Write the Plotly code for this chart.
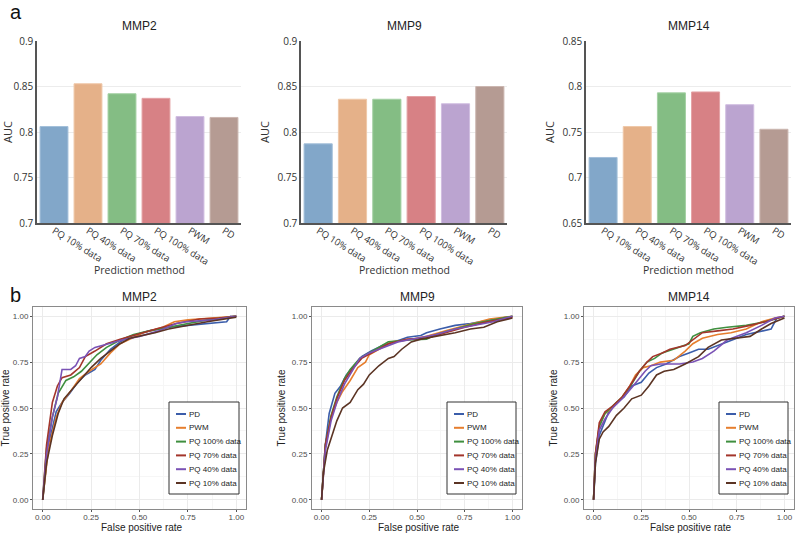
import plotly.graph_objects as go

# ---------------- data ----------------
methods = ["PQ 10% data", "PQ 40% data", "PQ 70% data", "PQ 100% data", "PWM", "PD"]
bar_colors = ["#82a7c9", "#e5b189", "#84bd84", "#d78185", "#bba4d0", "#b59b93"]
bar_edges = ["#a3bfd9", "#efc8a9", "#a3d0a3", "#e4a2a5", "#d0bde0", "#cbb6b0"]

auc_mmp2 = [0.806, 0.853, 0.842, 0.837, 0.817, 0.816]
auc_mmp9 = [0.787, 0.836, 0.836, 0.839, 0.831, 0.850]
auc_mmp14 = [0.722, 0.756, 0.793, 0.794, 0.780, 0.753]

roc_names = ["PD", "PWM", "PQ 100% data", "PQ 70% data", "PQ 40% data", "PQ 10% data"]
roc_colors = ["#3b5daa", "#e67e2e", "#3f8f3f", "#a3352b", "#7a52b5", "#5b3424"]

# MMP2 ROC curves (fpr, tpr)
mmp2_pd_x = [0, 0.03, 0.07, 0.10, 0.14, 0.18, 0.22, 0.27, 0.30, 0.35, 0.40, 0.45, 0.55, 0.65, 0.75, 0.85, 0.95, 0.97, 1.0]
mmp2_pd_y = [0, 0.30, 0.48, 0.53, 0.58, 0.64, 0.68, 0.71, 0.76, 0.82, 0.86, 0.89, 0.92, 0.94, 0.95, 0.96, 0.97, 1.0, 1.0]
mmp2_pwm_x = [0, 0.03, 0.07, 0.10, 0.15, 0.19, 0.24, 0.30, 0.35, 0.40, 0.46, 0.52, 0.62, 0.68, 0.75, 0.90, 1.0]
mmp2_pwm_y = [0, 0.28, 0.45, 0.53, 0.60, 0.66, 0.70, 0.74, 0.80, 0.85, 0.88, 0.91, 0.94, 0.97, 0.98, 0.99, 1.0]
mmp2_pq100_x = [0, 0.02, 0.05, 0.08, 0.12, 0.16, 0.20, 0.25, 0.28, 0.33, 0.40, 0.47, 0.55, 0.65, 0.75, 0.85, 1.0]
mmp2_pq100_y = [0, 0.28, 0.45, 0.58, 0.65, 0.67, 0.70, 0.76, 0.79, 0.83, 0.87, 0.90, 0.92, 0.94, 0.96, 0.98, 1.0]
mmp2_pq70_x = [0, 0.02, 0.05, 0.076, 0.10, 0.145, 0.19, 0.22, 0.27, 0.33, 0.40, 0.48, 0.585, 0.69, 0.81, 0.91, 1.0]
mmp2_pq70_y = [0, 0.30, 0.53, 0.62, 0.665, 0.68, 0.72, 0.78, 0.81, 0.85, 0.875, 0.90, 0.93, 0.96, 0.985, 0.99, 1.0]
mmp2_pq40_x = [0, 0.02, 0.05, 0.076, 0.10, 0.145, 0.17, 0.19, 0.22, 0.24, 0.27, 0.34, 0.41, 0.50, 0.60, 0.69, 0.74, 0.88, 1.0]
mmp2_pq40_y = [0, 0.25, 0.45, 0.56, 0.71, 0.71, 0.73, 0.77, 0.78, 0.81, 0.83, 0.85, 0.87, 0.89, 0.92, 0.96, 0.97, 0.98, 1.0]
mmp2_pq10_x = [0, 0.02, 0.05, 0.08, 0.11, 0.15, 0.20, 0.25, 0.30, 0.35, 0.40, 0.45, 0.50, 0.58, 0.65, 0.75, 0.85, 1.0]
mmp2_pq10_y = [0, 0.20, 0.35, 0.47, 0.55, 0.60, 0.66, 0.72, 0.77, 0.81, 0.85, 0.88, 0.89, 0.91, 0.93, 0.95, 0.97, 0.995]

# MMP9 ROC curves
mmp9_pd_x = [0, 0.02, 0.04, 0.07, 0.10, 0.13, 0.17, 0.21, 0.26, 0.32, 0.38, 0.45, 0.52, 0.55, 0.62, 0.70, 0.78, 0.86, 0.93, 1.0]
mmp9_pd_y = [0, 0.30, 0.47, 0.58, 0.62, 0.68, 0.73, 0.78, 0.81, 0.84, 0.86, 0.885, 0.895, 0.91, 0.93, 0.95, 0.96, 0.975, 0.99, 1.0]
mmp9_pwm_x = [0, 0.02, 0.05, 0.08, 0.11, 0.15, 0.19, 0.23, 0.25, 0.30, 0.37, 0.45, 0.55, 0.65, 0.75, 0.88, 1.0]
mmp9_pwm_y = [0, 0.28, 0.45, 0.53, 0.59, 0.65, 0.72, 0.75, 0.79, 0.82, 0.86, 0.87, 0.89, 0.92, 0.95, 0.985, 1.0]
mmp9_pq100_x = [0, 0.02, 0.05, 0.08, 0.12, 0.15, 0.20, 0.27, 0.35, 0.45, 0.55, 0.60, 0.70, 0.80, 0.90, 1.0]
mmp9_pq100_y = [0, 0.30, 0.46, 0.56, 0.66, 0.71, 0.77, 0.81, 0.86, 0.87, 0.875, 0.90, 0.93, 0.96, 0.98, 1.0]
mmp9_pq70_x = [0, 0.02, 0.05, 0.08, 0.12, 0.16, 0.21, 0.28, 0.35, 0.45, 0.55, 0.65, 0.75, 0.85, 1.0]
mmp9_pq70_y = [0, 0.30, 0.45, 0.55, 0.65, 0.71, 0.77, 0.81, 0.85, 0.875, 0.88, 0.91, 0.94, 0.965, 0.995]
mmp9_pq40_x = [0, 0.02, 0.05, 0.08, 0.12, 0.16, 0.20, 0.25, 0.32, 0.40, 0.50, 0.60, 0.70, 0.80, 0.90, 1.0]
mmp9_pq40_y = [0, 0.27, 0.43, 0.53, 0.63, 0.70, 0.77, 0.80, 0.83, 0.86, 0.88, 0.90, 0.93, 0.95, 0.97, 1.0]
mmp9_pq10_x = [0, 0.01, 0.03, 0.06, 0.08, 0.11, 0.15, 0.19, 0.22, 0.25, 0.30, 0.35, 0.38, 0.42, 0.47, 0.52, 0.60, 0.70, 0.78, 0.85, 0.92, 1.0]
mmp9_pq10_y = [0, 0.15, 0.27, 0.37, 0.43, 0.50, 0.53, 0.60, 0.63, 0.68, 0.73, 0.77, 0.78, 0.82, 0.86, 0.875, 0.89, 0.91, 0.93, 0.94, 0.97, 0.99]

# MMP14 ROC curves
mmp14_pd_x = [0, 0.01, 0.03, 0.05, 0.08, 0.12, 0.16, 0.20, 0.25, 0.29, 0.33, 0.38, 0.45, 0.50, 0.55, 0.60, 0.67, 0.75, 0.80, 0.88, 0.93, 0.96, 1.0]
mmp14_pd_y = [0, 0.20, 0.35, 0.40, 0.48, 0.53, 0.56, 0.62, 0.64, 0.69, 0.72, 0.74, 0.78, 0.80, 0.82, 0.82, 0.85, 0.88, 0.90, 0.92, 0.93, 0.99, 1.0]
mmp14_pwm_x = [0, 0.01, 0.03, 0.06, 0.10, 0.15, 0.19, 0.22, 0.26, 0.30, 0.35, 0.42, 0.48, 0.52, 0.57, 0.65, 0.72, 0.80, 0.88, 0.95, 1.0]
mmp14_pwm_y = [0, 0.25, 0.40, 0.47, 0.50, 0.56, 0.62, 0.68, 0.72, 0.73, 0.75, 0.76, 0.81, 0.85, 0.88, 0.90, 0.91, 0.93, 0.97, 0.99, 1.0]
mmp14_pq100_x = [0, 0.01, 0.03, 0.06, 0.10, 0.15, 0.20, 0.24, 0.28, 0.32, 0.36, 0.45, 0.50, 0.52, 0.56, 0.63, 0.70, 0.80, 0.90, 1.0]
mmp14_pq100_y = [0, 0.25, 0.40, 0.47, 0.51, 0.56, 0.63, 0.70, 0.75, 0.77, 0.80, 0.83, 0.85, 0.89, 0.91, 0.93, 0.94, 0.95, 0.97, 1.0]
mmp14_pq70_x = [0, 0.01, 0.03, 0.06, 0.10, 0.15, 0.19, 0.24, 0.28, 0.31, 0.36, 0.40, 0.48, 0.53, 0.57, 0.65, 0.73, 0.82, 0.90, 1.0]
mmp14_pq70_y = [0, 0.25, 0.42, 0.48, 0.51, 0.56, 0.62, 0.70, 0.75, 0.78, 0.80, 0.82, 0.84, 0.88, 0.91, 0.92, 0.93, 0.95, 0.97, 1.0]
mmp14_pq40_x = [0, 0.01, 0.03, 0.06, 0.10, 0.15, 0.20, 0.24, 0.27, 0.30, 0.35, 0.45, 0.52, 0.57, 0.63, 0.70, 0.75, 0.80, 0.88, 0.95, 1.0]
mmp14_pq40_y = [0, 0.22, 0.38, 0.44, 0.50, 0.55, 0.61, 0.66, 0.70, 0.73, 0.74, 0.74, 0.75, 0.77, 0.81, 0.87, 0.89, 0.91, 0.95, 0.99, 1.0]
mmp14_pq10_x = [0, 0.01, 0.03, 0.05, 0.08, 0.12, 0.16, 0.20, 0.25, 0.29, 0.33, 0.37, 0.42, 0.48, 0.55, 0.60, 0.67, 0.75, 0.82, 0.88, 0.93, 1.0]
mmp14_pq10_y = [0, 0.20, 0.33, 0.37, 0.40, 0.46, 0.50, 0.55, 0.57, 0.62, 0.68, 0.70, 0.71, 0.74, 0.78, 0.83, 0.87, 0.88, 0.89, 0.93, 0.96, 0.99]

bar_panels = [
    ("MMP2", auc_mmp2, [0.7, 0.9]),
    ("MMP9", auc_mmp9, [0.7, 0.9]),
    ("MMP14", auc_mmp14, [0.65, 0.85]),
]
roc_panels = [
    ("MMP2", [(mmp2_pd_x, mmp2_pd_y), (mmp2_pwm_x, mmp2_pwm_y), (mmp2_pq100_x, mmp2_pq100_y),
              (mmp2_pq70_x, mmp2_pq70_y), (mmp2_pq40_x, mmp2_pq40_y), (mmp2_pq10_x, mmp2_pq10_y)]),
    ("MMP9", [(mmp9_pd_x, mmp9_pd_y), (mmp9_pwm_x, mmp9_pwm_y), (mmp9_pq100_x, mmp9_pq100_y),
              (mmp9_pq70_x, mmp9_pq70_y), (mmp9_pq40_x, mmp9_pq40_y), (mmp9_pq10_x, mmp9_pq10_y)]),
    ("MMP14", [(mmp14_pd_x, mmp14_pd_y), (mmp14_pwm_x, mmp14_pwm_y), (mmp14_pq100_x, mmp14_pq100_y),
               (mmp14_pq70_x, mmp14_pq70_y), (mmp14_pq40_x, mmp14_pq40_y), (mmp14_pq10_x, mmp14_pq10_y)]),
]

# ---------------- layout geometry (pixels) ----------------
W, H = 800, 533
def px(x):
    return x / W
def py(y):
    return 1 - y / H

bar_x_dom = [(37, 241), (301, 507), (586, 791)]
bar_y_dom = (41, 223)
roc_x_dom = [(33, 246), (312, 522), (584, 794)]
roc_y_dom = (307, 509)
legend_box = [(169, 239), (447, 516), (719, 788)]
legend_top, legend_bottom = 402, 494
legend_first, legend_step = 414, 13.8

fig = go.Figure()
layout = dict(
    width=W, height=H, margin=dict(l=0, r=0, t=0, b=0, autoexpand=False),
    paper_bgcolor="white", plot_bgcolor="white", showlegend=False,
    font=dict(family="Open Sans, Arial, sans-serif", color="#444"),
    bargap=0.18, annotations=[], shapes=[],
)

def add_text(text, x, y, size, family="Arial", color="#222", angle=0):
    layout["annotations"].append(dict(
        text=text, x=px(x), y=py(y), xref="paper", yref="paper", showarrow=False,
        font=dict(family=family, size=size, color=color), textangle=angle,
        xanchor="center", yanchor="middle"))

# ----- bar charts -----
for i, (name, vals, rng) in enumerate(bar_panels):
    n = i + 1
    xa = "x" if n == 1 else f"x{n}"
    ya = "y" if n == 1 else f"y{n}"
    fig.add_trace(go.Bar(
        x=methods, y=vals, xaxis=xa, yaxis=ya, showlegend=False,
        marker=dict(color=bar_colors, line=dict(color=bar_edges, width=1)),
    ))
    layout[f"xaxis{n}"] = dict(
        domain=[px(bar_x_dom[i][0]), px(bar_x_dom[i][1])], anchor=ya,
        showline=True, linecolor="#555", linewidth=1.5, showgrid=False,
        tickangle=32, tickfont=dict(size=9.5, color="#333"), ticks="",
        ticklabelstandoff=-3,
    )
    layout[f"yaxis{n}"] = dict(
        domain=[py(bar_y_dom[1]), py(bar_y_dom[0])], anchor=xa, range=rng,
        dtick=0.05, showline=True, linecolor="#555", linewidth=1.5,
        showgrid=True, gridcolor="#ececec", zeroline=False,
        tickfont=dict(size=10, color="#333"), ticks="",
        title=dict(text="AUC", font=dict(size=11, color="#333"), standoff=6),
    )
    cx = (bar_x_dom[i][0] + bar_x_dom[i][1]) / 2
    add_text(name, cx, 26, 12)
    add_text("Prediction method", cx, 270, 10.5, family="Open Sans, Arial, sans-serif", color="#333")

# ----- ROC charts -----
for i, (name, curves) in enumerate(roc_panels):
    n = i + 4
    xa = f"x{n}"
    ya = f"y{n}"
    for j, (cx_, cy_) in enumerate(curves):
        fig.add_trace(go.Scatter(
            x=cx_, y=cy_, mode="lines", name=roc_names[j], xaxis=xa, yaxis=ya,
            line=dict(color=roc_colors[j], width=1.6), showlegend=False,
        ))
    axis_common = dict(
        range=[-0.05, 1.05], tickvals=[0, 0.25, 0.5, 0.75, 1.0],
        ticktext=["0.00", "0.25", "0.50", "0.75", "1.00"],
        showline=True, mirror=True, linecolor="#8a8a8a", linewidth=1,
        showgrid=True, gridcolor="#ebebeb", gridwidth=1, zeroline=False,
        ticks="outside", ticklen=2, tickcolor="#555",
        tickfont=dict(family="Arial", size=8, color="#4d4d4d"),
        minor=dict(tickmode="array", tickvals=[0.125, 0.375, 0.625, 0.875],
                   showgrid=True, gridcolor="#f6f6f6", gridwidth=1),
    )
    layout[f"xaxis{n}"] = dict(
        axis_common, domain=[px(roc_x_dom[i][0]), px(roc_x_dom[i][1])], anchor=ya,
        ticklabelstandoff=-2,
    )
    layout[f"yaxis{n}"] = dict(
        axis_common, domain=[py(roc_y_dom[1]), py(roc_y_dom[0])], anchor=xa,
        title=dict(text="True positive rate", font=dict(family="Arial", size=10, color="#222"), standoff=4),
    )
    cx = (roc_x_dom[i][0] + roc_x_dom[i][1]) / 2
    add_text(name, cx, 297, 12)
    add_text("False positive rate", cx + 2, 527, 10)

    # hand-built legend box (one per panel)
    lx0, lx1 = legend_box[i]
    layout["shapes"].append(dict(
        type="rect", xref="paper", yref="paper", x0=px(lx0), x1=px(lx1),
        y0=py(legend_bottom), y1=py(legend_top),
        line=dict(color="#333", width=1), fillcolor="white", layer="above"))
    for j, nm in enumerate(roc_names):
        yy = legend_first + j * legend_step
        layout["shapes"].append(dict(
            type="line", xref="paper", yref="paper", x0=px(lx0 + 7), x1=px(lx0 + 17),
            y0=py(yy), y1=py(yy), line=dict(color=roc_colors[j], width=2), layer="above"))
        layout["annotations"].append(dict(
            text=nm, x=px(lx0 + 18), y=py(yy), xref="paper", yref="paper",
            showarrow=False, font=dict(family="Arial", size=8, color="#222"),
            xanchor="left", yanchor="middle"))

# panel letters
layout["annotations"].append(dict(text="a", x=px(8), y=py(12), xref="paper", yref="paper",
                                  showarrow=False, font=dict(family="Arial", size=20, color="#111"),
                                  xanchor="left", yanchor="middle"))
layout["annotations"].append(dict(text="b", x=px(8), y=py(295), xref="paper", yref="paper",
                                  showarrow=False, font=dict(family="Arial", size=20, color="#111"),
                                  xanchor="left", yanchor="middle"))

fig.update_layout(**layout)
fig.write_html("out.html", config={"displayModeBar": False},
               post_script="document.body.style.margin='0';document.body.style.overflow='hidden';")
